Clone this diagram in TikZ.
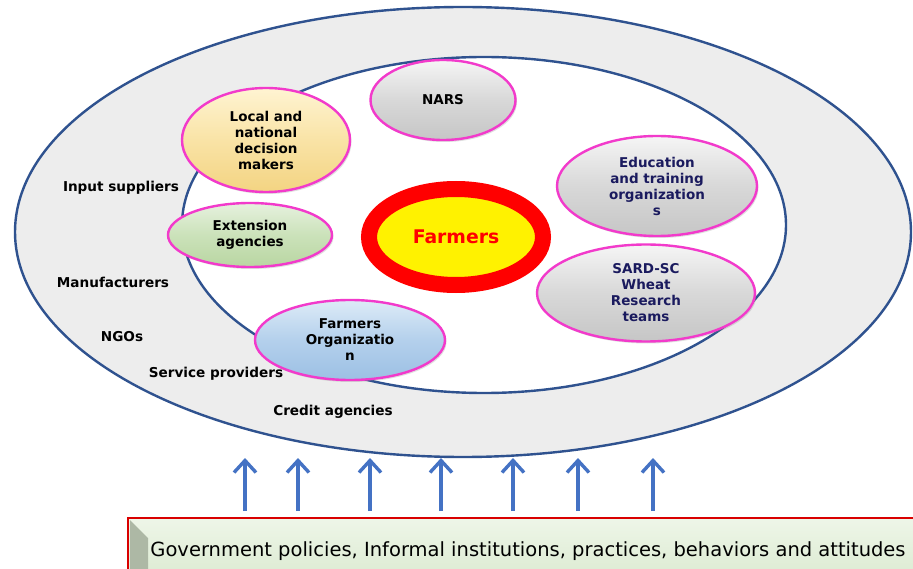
\documentclass[tikz,border=0pt]{standalone}
\usepackage{fontspec}
\setmainfont{DejaVu Sans}
\usetikzlibrary{shapes.geometric,arrows.meta,shadows}
\definecolor{ringblue}{HTML}{2F528F}
\definecolor{outerfill}{HTML}{EDEDED}
\definecolor{pinkline}{HTML}{F23ACB}
\definecolor{arrowblue}{HTML}{4472C4}
\definecolor{navytext}{HTML}{1A1A5E}
\definecolor{farmred}{HTML}{FF0000}
\definecolor{yTop}{HTML}{FFF4D2}\definecolor{yMid}{HTML}{F9E3A6}\definecolor{yBot}{HTML}{F3D482}
\definecolor{gTop}{HTML}{E6F1DE}\definecolor{gMid}{HTML}{CBE2BA}\definecolor{gBot}{HTML}{B9D6A2}
\definecolor{bTop}{HTML}{DDEBF7}\definecolor{bMid}{HTML}{B4D0EC}\definecolor{bBot}{HTML}{9CC0E4}
\definecolor{kTop}{HTML}{F5F5F5}\definecolor{kMid}{HTML}{D8D8D8}\definecolor{kBot}{HTML}{C6C6C6}
\definecolor{boxTop}{HTML}{EEF6E8}\definecolor{boxBot}{HTML}{DDEBD3}
\begin{document}
\begin{tikzpicture}[x=1pt,y=-1pt,
  bubble/.style={ellipse,draw=pinkline,line width=2.4pt,inner sep=0pt,align=center,
     font=\bfseries\fontsize{13.5}{16}\selectfont,
     drop shadow={shadow xshift=1.5pt,shadow yshift=-2pt,opacity=0.25}},
  graybub/.style={bubble,top color=kTop,bottom color=kBot,middle color=kMid},
  outerlabel/.style={font=\bfseries\fontsize{13.6}{16}\selectfont,inner sep=1pt},
  uparrow/.style={arrowblue,line width=3.6pt,-{Straight Barb[length=12pt,width=22pt,line width=3.4pt]}}
]
\useasboundingbox (0,0) rectangle (913,569);
\fill[white] (0,0) rectangle (913,569);
% outer and inner ellipses
\draw[ringblue,line width=2.4pt,fill=outerfill] (463,232) ellipse [x radius=448,y radius=225];
\draw[ringblue,line width=2.4pt,fill=white] (484,225) ellipse [x radius=302,y radius=168];

% outer labels
\node[outerlabel] (inp) at (121,188) {Input suppliers};
\node[outerlabel] (man) at (113,282) {Manufacturers};
\node[outerlabel] (ngo) at (122,337) {NGOs};
\node[outerlabel] (ser) at (216,374) {Service providers};
\node[outerlabel] (cre) at (333,412) {Credit agencies};

% bubbles
\node[graybub,minimum width=145pt,minimum height=80pt] (nars) at (443,100) {NARS};
\node[bubble,minimum width=168pt,minimum height=104pt,
      top color=yTop,bottom color=yBot,middle color=yMid] (local) at (266,140)
      {Local and\\national\\decision\\makers};
\node[bubble,minimum width=164pt,minimum height=64pt,
      top color=gTop,bottom color=gBot,middle color=gMid] (ext) at (250,235)
      {Extension\\agencies};
\node[graybub,minimum width=200pt,minimum height=100pt,text=navytext] (edu) at (657,186)
      {Education\\and training\\organization\\s};
\node[graybub,minimum width=218pt,minimum height=97pt,text=navytext] (sard) at (646,293)
      {SARD-SC\\Wheat\\Research\\teams};
\node[bubble,minimum width=190pt,minimum height=80pt,
      top color=bTop,bottom color=bBot,middle color=bMid] (forg) at (350,340)
      {Farmers\\Organizatio\\n};

% Farmers
\node[ellipse,draw=farmred,line width=16pt,fill=yellow,inner sep=0pt,
      minimum width=174pt,minimum height=96pt,text=farmred,
      font=\bfseries\fontsize{18.8}{22}\selectfont] (farmers) at (456,237) {Farmers};

% bottom box
\fill[top color=boxTop,bottom color=boxBot] (128,518) rectangle (920,575);
\fill[black!8!boxBot!85!black] (130,520) -- (148,538) -- (148,575) -- (130,575) -- cycle;
\draw[farmred!85!black,line width=1.6pt] (128,575) -- (128,518) -- (920,518);
\node[font=\fontsize{19.5}{22}\selectfont,inner sep=0pt] (gov) at (528,551)
      {Government policies, Informal institutions, practices, behaviors and attitudes};

% arrows
\foreach \i/\x in {1/245,2/298,3/370,4/441,5/513,6/578,7/653}{
  \coordinate (a\i) at (\x,511);
  \coordinate (b\i) at (\x,458);
  \draw[uparrow] (a\i) -- (b\i);
}
\end{tikzpicture}
\end{document}
